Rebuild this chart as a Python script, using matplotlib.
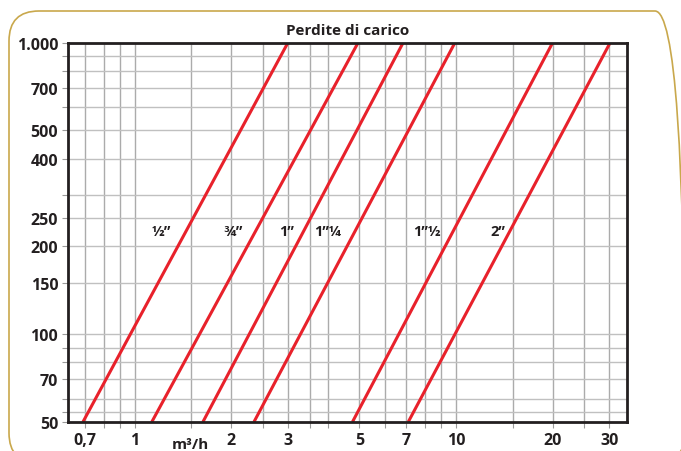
import matplotlib.pyplot as plt
from matplotlib.patches import FancyBboxPatch
from matplotlib.ticker import FixedLocator, FixedFormatter, NullLocator

# portata (m3/h) ai due estremi di ogni curva, perdita di carico 50 -> 1000
diametri = ["½”", "¾”", "1”", "1”¼", "1”½", "2”"]
q_basso = [0.69, 1.13, 1.63, 2.35, 4.76, 7.1]
q_alto = [3.0, 4.96, 6.85, 9.93, 20.0, 30.2]
p_estremi = [50, 1000]

# posizione etichette dei diametri
lab_x = [1.21, 2.02, 2.96, 4.0, 8.12, 13.5]
lab_y = 226

# griglia e tacche
x_grid = [0.7, 0.8, 0.9, 1, 1.5, 2, 2.5, 3, 3.5, 4, 5, 6, 7, 8, 9, 10, 15, 20, 25, 30]
x_lab = {0.7: "0,7", 1: "1", 2: "2", 3: "3", 5: "5", 7: "7", 10: "10", 20: "20", 30: "30"}
y_grid = [54, 60, 70, 80, 90, 100, 150, 200, 250, 300, 400, 500, 600, 700, 800, 900, 1000]
y_lab = {50: "50", 70: "70", 100: "100", 150: "150", 200: "200", 250: "250",
         400: "400", 500: "500", 700: "700", 1000: "1.000"}

plt.rcParams['font.family'] = ['Open Sans', 'DejaVu Sans']
plt.rcParams['font.weight'] = 'bold'

fig = plt.figure(figsize=(6.81, 4.52), dpi=100)

# cornice arrotondata (in pollici)
cornice = FancyBboxPatch((0.09, -0.12), 6.76, 4.52,
                         boxstyle="round,pad=0,rounding_size=0.3",
                         transform=fig.dpi_scale_trans, fill=False,
                         edgecolor="#c9a84c", linewidth=1.2)
fig.patches.append(cornice)

ax = fig.add_axes([68 / 681, 29 / 452, 559 / 681, 379.5 / 452])
ax.set_xscale("log")
ax.set_yscale("log")
ax.set_xlim(0.62, 34.05)
ax.set_ylim(50, 1000)

for xg in x_grid:
    ax.axvline(xg, color="#ababab", lw=1.0, zorder=1)
for yg in y_grid:
    ax.axhline(yg, color="#c0c0c0", lw=1.0, zorder=1)

for d, q0, q1 in zip(diametri, q_basso, q_alto):
    ax.plot([q0, q1], p_estremi, color="#e8212b", lw=2.2, zorder=3, solid_capstyle="butt")

for d, lx in zip(diametri, lab_x):
    ax.text(lx, lab_y, d, ha="center", va="center", fontsize=10.5,
            fontweight="bold", color="#231f20", zorder=4)

ax.xaxis.set_major_locator(FixedLocator(x_grid))
ax.xaxis.set_major_formatter(FixedFormatter([x_lab.get(v, "") for v in x_grid]))
ax.xaxis.set_minor_locator(NullLocator())
yt = [50] + y_grid
ax.yaxis.set_major_locator(FixedLocator(yt))
ax.yaxis.set_major_formatter(FixedFormatter([y_lab.get(v, "") for v in yt]))
ax.yaxis.set_minor_locator(NullLocator())
ax.tick_params(axis="both", which="major", direction="out", length=4, width=0.8,
               color="#9a9a9a", labelsize=11.5, labelcolor="#231f20", pad=3)
for lab in ax.get_xticklabels() + ax.get_yticklabels():
    lab.set_fontweight("bold")

for s in ax.spines.values():
    s.set_linewidth(2.0)
    s.set_color("#231f20")
    s.set_zorder(5)

ax.set_title("Perdite di carico", fontsize=11, fontweight="bold", color="#231f20", pad=6)
fig.text(190 / 681, 1 - 445 / 452, "m³/h", ha="center", va="center",
         fontsize=11, fontweight="bold", color="#231f20")

fig.savefig("out.png", dpi=100)
